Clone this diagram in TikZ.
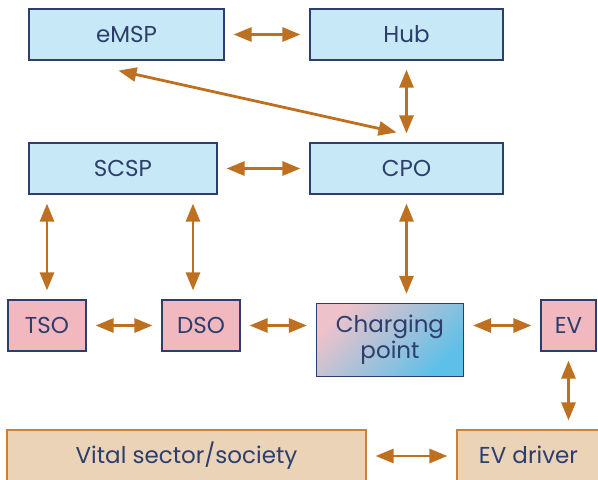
\documentclass[tikz,border=0pt]{standalone}
\usepackage{fontspec}
\setmainfont{Poppins}
\usepackage{xcolor}
\usetikzlibrary{arrows.meta}
\definecolor{navy}{HTML}{2C3E6B}
\definecolor{lblue}{HTML}{C7E8F6}
\definecolor{lpink}{HTML}{F2B8BF}
\definecolor{tan}{HTML}{EAD3B7}
\definecolor{brownc}{HTML}{BC7020}
\definecolor{tanedge}{HTML}{CB8235}
\definecolor{gpink}{HTML}{EEC2CB}
\definecolor{gblue}{HTML}{5CC0E8}

\begin{document}
\begin{tikzpicture}[x=1pt, y=-1pt,
  box/.style = {draw=navy, line width=1.2pt, text=navy, font=\fontsize{23}{27}\selectfont, inner sep=0pt, minimum height=51pt},
  actor/.style = {box, fill=lblue},
  grid/.style = {box, fill=lpink},
  user/.style = {box, draw=tanedge, fill=tan, minimum height=52pt},
  link/.style = {{Triangle[length=18pt,width=14pt]}-{Triangle[length=18pt,width=14pt]}, draw=brownc, line width=2.8pt, shorten <=9pt, shorten >=9pt}]
\useasboundingbox (0,0) rectangle (598,480);
\node[actor, minimum width=195pt] (emsp) at (126.5,34.5) {eMSP};
\node[actor, minimum width=193pt] (hub) at (406.5,34.5) {Hub};
\node[actor, minimum width=188pt] (scsp) at (123,168.5) {SCSP};
\node[actor, minimum width=193pt] (cpo) at (406.5,168.5) {CPO};
\node[grid, minimum width=78pt] (tso) at (47,325.5) {TSO};
\node[grid, minimum width=78pt] (dso) at (201,325.5) {DSO};
\node[box, minimum width=147pt, minimum height=73pt, align=center, left color=gpink, right color=gblue, shading angle=45] (chg) at (390,340) {Charging\\[-1pt]point};
\node[grid, minimum width=55pt] (ev) at (568.5,325.5) {EV};
\node[user, minimum width=359pt] (vital) at (186.5,456) {\raisebox{3pt}{Vital sector/society}};
\node[user, minimum width=143pt] (drv) at (528.5,456) {\raisebox{3pt}{EV driver}};

\draw[link] (emsp) -- (hub);
\draw[link] (scsp) -- (cpo);
\draw[link] (hub) -- (cpo);
\draw[link, shorten <=0pt, shorten >=0pt] ([xshift=-8pt, yshift=-10pt]emsp.south) -- ([xshift=-10pt, yshift=10pt]cpo.north);
\draw[link] (tso.north |- scsp.south) -- (tso.north);
\draw[link] ([xshift=-8pt]dso.north |- scsp.south) -- ([xshift=-8pt]dso.north);
\draw[link] (cpo.south) -- (cpo.south |- chg.north);
\draw[link] (tso) -- (dso);
\draw[link] (dso) -- (dso -| chg.west);
\draw[link] (chg.east |- ev) -- (ev);
\draw[link] (ev.south) -- (ev.south |- drv.north);
\draw[link] (vital) -- (drv);
\end{tikzpicture}
\end{document}
